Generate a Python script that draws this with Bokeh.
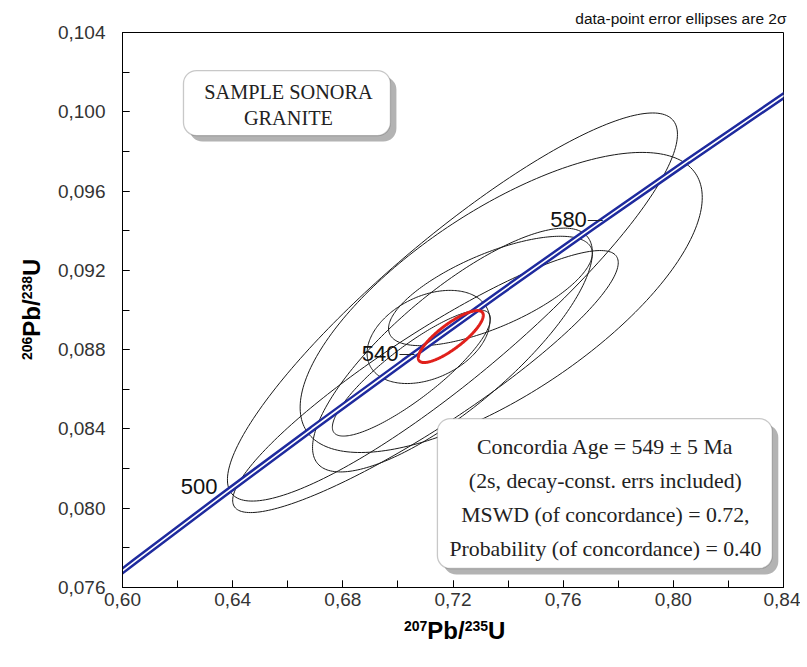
import numpy as np
from bokeh.plotting import figure
from bokeh.models import Range1d, FixedTicker, CustomJSTickFormatter, Label, BoxAnnotation, Div, Title
from bokeh.layouts import column, row
from bokeh.embed import file_html
from bokeh.resources import INLINE

# ---------------- data ----------------
# Concordia curve: age (Ma) and ratios
conc_age = [470, 480, 500, 520, 540, 560, 580, 600, 620]
conc_x = [0.58864, 0.604365, 0.636279, 0.668829, 0.702025, 0.735883, 0.770413, 0.805630, 0.841548]
conc_y = [0.075632, 0.077302, 0.080650, 0.084008, 0.087376, 0.090755, 0.094144, 0.097544, 0.100954]
age_labels = [500, 540, 580]

# Analyses: 207Pb/235U, 2s, 206Pb/238U, 2s, rho
ell_x = [0.7198, 0.7100, 0.7375, 0.7111, 0.7198, 0.7049, 0.7336]
ell_sx = [0.0817, 0.0700, 0.0730, 0.0223, 0.0508, 0.0287, 0.0370]
ell_y = [0.09015, 0.08639, 0.09038, 0.08864, 0.08798, 0.08682, 0.09096]
ell_sy = [0.00979, 0.00661, 0.00757, 0.00235, 0.00615, 0.00318, 0.00276]
ell_rho = [0.89, 0.907, 0.70, 0.35, 0.80, 0.86, 0.686]

# Concordia age ellipse
cage_x = 0.7192
cage_sx = 0.0118
cage_y = 0.08866
cage_sy = 0.00131
cage_rho = 0.82

x_ticks = [0.60, 0.64, 0.68, 0.72, 0.76, 0.80, 0.84]
x_minor = [0.60, 0.62, 0.64, 0.66, 0.68, 0.70, 0.72, 0.74, 0.76, 0.78, 0.80, 0.82, 0.84]
y_ticks = [0.076, 0.080, 0.084, 0.088, 0.092, 0.096, 0.100, 0.104]
y_minor = [0.076, 0.078, 0.080, 0.082, 0.084, 0.086, 0.088, 0.090, 0.092, 0.094,
           0.096, 0.098, 0.100, 0.102, 0.104]

note_text = "data-point error ellipses are 2\u03c3"
sample_text = ["SAMPLE SONORA", "GRANITE"]
result_text = ["Concordia Age = 549 \u00b1 5 Ma",
               "(2s, decay-const. errs included)",
               "MSWD (of concordance) = 0.72,",
               "Probability (of concordance) = 0.40"]

# ---------------- figure ----------------
P_W, P_H = 756, 617
p = figure(width=P_W, height=P_H, x_range=Range1d(0.60, 0.84), y_range=Range1d(0.076, 0.104),
           output_backend="svg", toolbar_location=None, margin=0, title=None,
           min_border_left=78, min_border_right=17, min_border_top=32, min_border_bottom=30)
p.add_layout(Title(text=note_text, align="right", offset=-3, standoff=11,
                   text_font="Liberation Sans", text_font_style="normal",
                   text_font_size="15.5px", text_color="#111111"), "above")
p.grid.visible = False
p.outline_line_color = "black"
p.outline_line_width = 1
p.background_fill_color = "white"
p.border_fill_color = "white"

for ax in (p.xaxis[0], p.yaxis[0]):
    ax.axis_line_color = "black"
    ax.major_tick_line_color = "black"
    ax.minor_tick_line_color = "black"
    ax.major_tick_in = 7
    ax.major_tick_out = 0
    ax.minor_tick_in = 7
    ax.minor_tick_out = 0
    ax.major_label_text_font = "Liberation Sans"
    ax.major_label_text_font_size = "19px"
    ax.major_label_text_color = "#333333"

p.xaxis.ticker = FixedTicker(ticks=x_ticks, minor_ticks=x_minor)
p.yaxis.ticker = FixedTicker(ticks=y_ticks, minor_ticks=y_minor)
p.xaxis.formatter = CustomJSTickFormatter(code="return tick.toFixed(2).replace('.', ',');")
p.yaxis.formatter = CustomJSTickFormatter(code="return tick.toFixed(3).replace('.', ',');")
p.xaxis.major_label_standoff = 5
p.yaxis.major_label_standoff = 17


def ellipse_outline(cx, sx, cy, sy, rho, n=240):
    t = np.linspace(0, 2 * np.pi, n)
    xs = cx + sx * np.cos(t)
    ys = cy + sy * (rho * np.cos(t) + np.sqrt(1 - rho ** 2) * np.sin(t))
    return xs, ys


xs_all, ys_all = [], []
for cx, sx, cy, sy, r in zip(ell_x, ell_sx, ell_y, ell_sy, ell_rho):
    xs, ys = ellipse_outline(cx, sx, cy, sy, r)
    xs_all.append(xs)
    ys_all.append(ys)
p.patches(xs_all, ys_all, fill_color=None, line_color="#1a1a1a", line_width=1)

# Concordia band (double line)
p.line(conc_x, conc_y, line_color="#1e2a9e", line_width=6.5)
p.line(conc_x, conc_y, line_color="white", line_width=1.6)

# Concordia age ellipse
cxs, cys = ellipse_outline(cage_x, cage_sx, cage_y, cage_sy, cage_rho)
p.patch(cxs, cys, fill_color=None, line_color="#e0201b", line_width=3)

# Age labels
for age in age_labels:
    i = conc_age.index(age)
    p.add_layout(Label(x=conc_x[i], y=conc_y[i], x_offset=-5, y_offset=8.5, text=str(age),
                       text_align="right", text_baseline="middle", text_font="Liberation Sans",
                       text_font_size="22px", text_color="#111111"))
    if age != 500:
        p.add_layout(Label(x=conc_x[i], y=conc_y[i], x_offset=-4, y_offset=9.5, text="\u2014",
                           text_align="left", text_baseline="middle", text_font="Liberation Sans",
                           text_font_size="15px", text_color="#222222"))

# ---------------- annotation boxes ----------------
kx = 2755.0   # px per unit of x
ky = 19825.0  # px per unit of y


def dx(px):
    return 0.60 + (px - 122) / kx


def dy(py):
    return 0.076 + (587 - py) / ky


def rounded_box(l, r, t, b):
    p.add_layout(BoxAnnotation(left=dx(l + 6), right=dx(r + 6), top=dy(t + 6), bottom=dy(b + 6),
                               fill_color="#9a9a9a", fill_alpha=0.75, line_color=None,
                               border_radius=13))
    p.add_layout(BoxAnnotation(left=dx(l), right=dx(r), top=dy(t), bottom=dy(b),
                               fill_color="white", fill_alpha=1.0, line_color="#4a4a4a",
                               line_width=1.3, border_radius=13))


rounded_box(183, 390, 70, 135)
rounded_box(437, 772, 418, 568)

for k, line in enumerate(sample_text):
    p.add_layout(Label(x=dx(288), y=dy(91 + 26 * k), text=line, text_align="center",
                       text_baseline="middle", text_font="Liberation Serif",
                       text_font_size="20.3px", text_color="#222222"))

for k, line in enumerate(result_text):
    p.add_layout(Label(x=dx(605), y=dy(446 + 34 * k), text=line, text_align="center",
                       text_baseline="middle", text_font="Liberation Serif",
                       text_font_size="21.8px", text_color="#222222"))

# ---------------- axis titles with superscripts (HTML) ----------------
FONT = "font-family:'Liberation Sans',Arial,sans-serif;"
SUP = "font-size:14px;position:relative;top:-8px;"

y_div = Div(width=44, height=P_H, margin=0, text=(
    '<div style="position:relative;width:44px;height:%dpx;">' % P_H +
    '<div style="position:absolute;left:20px;top:360px;transform:rotate(-90deg);transform-origin:0 0;'
    'white-space:nowrap;' + FONT + 'font-weight:bold;font-size:24px;line-height:24px;color:#000;">'
    '<span style="' + SUP + '">206</span>Pb/<span style="' + SUP + '">238</span>U'
    '</div></div>'))

x_div = Div(width=800, height=40, margin=0, text=(
    '<div style="position:relative;width:800px;height:40px;">'
    '<div style="position:absolute;left:404px;top:2px;white-space:nowrap;' + FONT +
    'font-weight:bold;font-size:24px;line-height:24px;color:#000;">'
    '<span style="' + SUP + '">207</span>Pb/<span style="' + SUP + '">235</span>U'
    '</div></div>'))

layout = column(row(y_div, p, margin=0, spacing=0), x_div, margin=0, spacing=0)

open("out.html", "w").write(file_html(layout, INLINE))
